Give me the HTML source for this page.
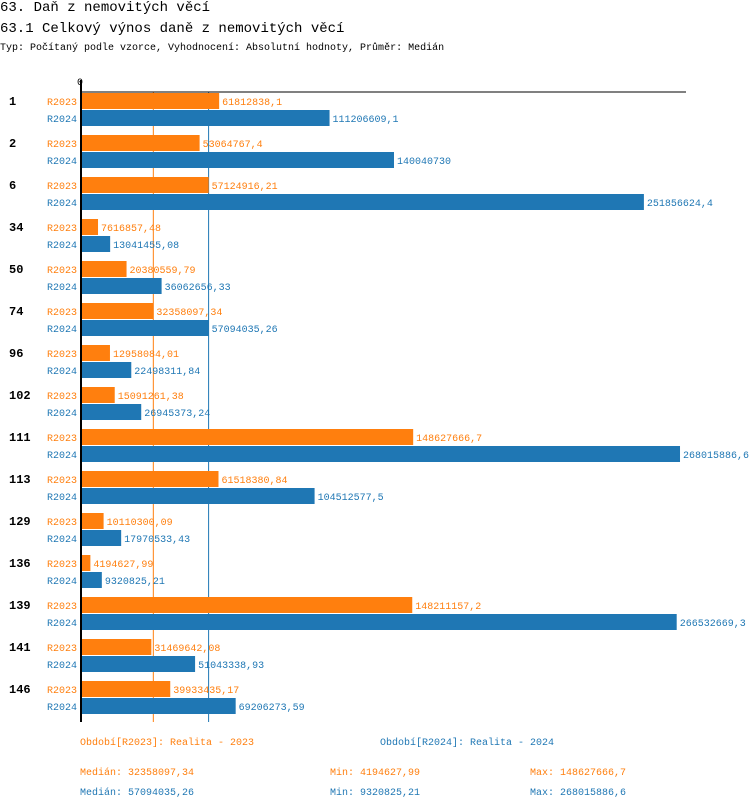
<!DOCTYPE html>
<html><head><meta charset="utf-8"><style>
body{margin:0;width:750px;height:812px;background:#fff;font-family:"Liberation Mono","DejaVu Sans Mono",monospace;overflow:hidden;position:relative}
.t{position:absolute;white-space:nowrap}
.o{color:#ff7f0e}.b{color:#1f77b4}
</style></head><body>
<div class="t" style="left:0;top:0;font-size:14px;line-height:16px">63. Daň z nemovitých věcí</div>
<div class="t" style="left:0;top:21px;font-size:14px;line-height:16px">63.1 Celkový výnos daně z nemovitých věcí</div>
<div class="t" style="left:0;top:43px;font-size:10px;line-height:12px">Typ: Počítaný podle vzorce, Vyhodnocení: Absolutní hodnoty, Průměr: Medián</div>
<svg id="chart" width="750" height="812" style="position:absolute;left:0;top:0" font-family="Liberation Mono, DejaVu Sans Mono, monospace" font-size="10"></svg>
<div class="t o" style="left:80px;top:738px;font-size:10px">Období[R2023]: Realita - 2023</div>
<div class="t b" style="left:380px;top:738px;font-size:10px">Období[R2024]: Realita - 2024</div>
<div class="t o" style="left:80px;top:768px;font-size:10px">Medián: 32358097,34</div>
<div class="t o" style="left:330px;top:768px;font-size:10px">Min: 4194627,99</div>
<div class="t o" style="left:530px;top:768px;font-size:10px">Max: 148627666,7</div>
<div class="t b" style="left:80px;top:788px;font-size:10px">Medián: 57094035,26</div>
<div class="t b" style="left:330px;top:788px;font-size:10px">Min: 9320825,21</div>
<div class="t b" style="left:530px;top:788px;font-size:10px">Max: 268015886,6</div>
<script>
const categories=["1","2","6","34","50","74","96","102","111","113","129","136","139","141","146"];
const r2023=[61812838.1,53064767.4,57124916.21,7616857.48,20380559.79,32358097.34,12958084.01,15091261.38,148627666.7,61518380.84,10110300.09,4194627.99,148211157.2,31469642.08,39933435.17];
const r2024=[111206609.1,140040730,251856624.4,13041455.08,36062656.33,57094035.26,22498311.84,26945373.24,268015886.6,104512577.5,17970533.43,9320825.21,266532669.3,51043338.93,69206273.59];
const medians=[32358097.34,57094035.26];
const seriesNames=["R2023","R2024"];
const colors=["#ff7f0e","#1f77b4"];
const svg=document.getElementById('chart');const NS="http://www.w3.org/2000/svg";
const x=v=>81+v*2.235e-6;
const y=i=>93+i*42;
function mk(t,a,p){const e=document.createElementNS(NS,t);for(const k in a)e.setAttribute(k,a[k]);(p||svg).appendChild(e);return e;}
const fmt=v=>String(v).replace('.',',');
medians.forEach((m,s)=>{const l=mk('line',{x1:x(m),x2:x(m),y1:92,y2:722,stroke:colors[s],'stroke-width':1});

});
categories.forEach((c,i)=>{
 const t=mk('text',{x:9,y:y(i)+12,'font-weight':'bold','font-size':12});t.textContent=c;
 
 
 [r2023,r2024].forEach((arr,s)=>{
  const top=y(i)+s*17;
  const r=mk('rect',{x:82,y:top,width:Math.max(0,x(arr[i])-82),height:16,fill:colors[s]});
  
  
  const sl=mk('text',{x:77,y:top+12,'text-anchor':'end',fill:colors[s]});sl.textContent=seriesNames[s];
  
  
  const vl=mk('text',{x:x(arr[i])+3,y:top+12,fill:colors[s]});vl.textContent=fmt(arr[i]);
  
  
 });
});
const ax=mk('line',{x1:80,x2:686,y1:92,y2:92,stroke:'#000','stroke-width':1});


const ay=mk('rect',{x:80,y:80,width:2,height:642,fill:'#000'});


const z=mk('text',{x:77,y:85,'font-size':10});z.textContent='0';


</script>
</body></html>
